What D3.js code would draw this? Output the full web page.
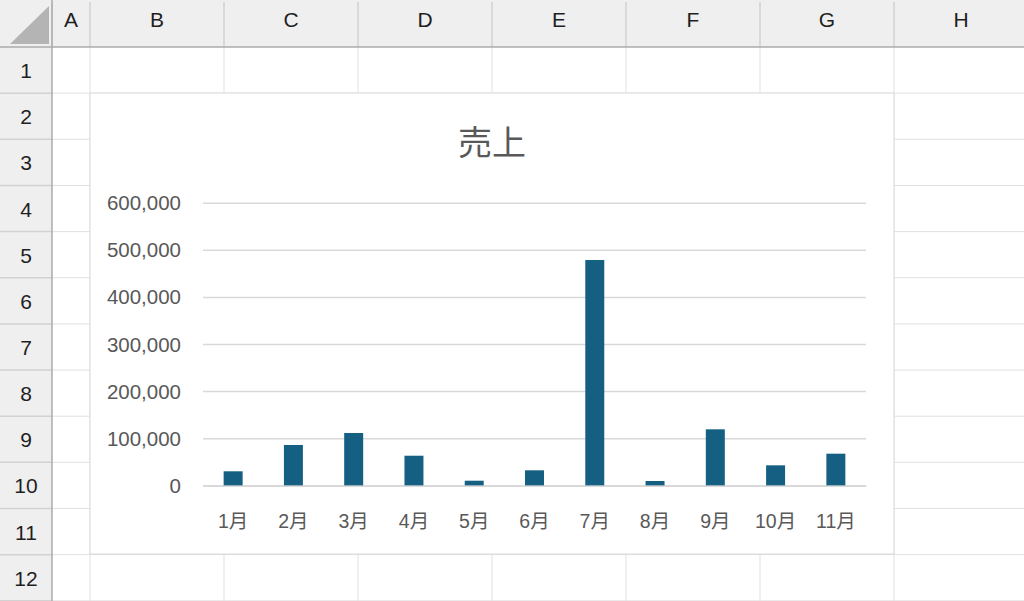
<!DOCTYPE html>
<html>
<head>
<meta charset="utf-8">
<script src="https://cdn.jsdelivr.net/npm/d3@7"></script>
<style>
  html, body { margin: 0; padding: 0; background: #fff; }
  svg { display: block; }
</style>
</head>
<body>
<svg width="1024" height="601"></svg>
<script>
// data
const title = '売上';
const months = ['1月', '2月', '3月', '4月', '5月', '6月', '7月', '8月', '9月', '10月', '11月'];
const sales = [30600, 86500, 112000, 63700, 10600, 32700, 479500, 10000, 119800, 43300, 68000];
const yTicks = [0, 100000, 200000, 300000, 400000, 500000, 600000];
const columnNames = ['A', 'B', 'C', 'D', 'E', 'F', 'G', 'H'];
const rowNames = ['1', '2', '3', '4', '5', '6', '7', '8', '9', '10', '11', '12'];

const svg = d3.select('svg');
const W = 1024, H = 601;

// sheet layout
const headerH = 47, rowHeadW = 52, rowH = 46.15;
const colEdges = [52, 90, 224, 358, 492, 626, 760, 894, 1028];
const fontUI = '"Liberation Sans", "Noto Sans CJK JP", sans-serif';

// sheet cell grid
const sheet = svg.append('g');
sheet.selectAll('line.v')
  .data(colEdges.slice(1))
  .enter().append('line')
  .attr('x1', d => d).attr('x2', d => d)
  .attr('y1', headerH).attr('y2', H)
  .attr('stroke', '#e1e1e1').attr('stroke-width', 1);
sheet.selectAll('line.h')
  .data(rowNames)
  .enter().append('line')
  .attr('x1', rowHeadW).attr('x2', W)
  .attr('y1', (d, i) => headerH + (i + 1) * rowH)
  .attr('y2', (d, i) => headerH + (i + 1) * rowH)
  .attr('stroke', '#e1e1e1').attr('stroke-width', 1);

// column header
const colHead = svg.append('g');
colHead.append('rect').attr('x', 0).attr('y', 0).attr('width', W).attr('height', headerH).attr('fill', '#efefef');
colHead.append('path')
  .attr('d', 'M10,44 L49,44 L49,6 Z')
  .attr('fill', '#b4b4b4');
colHead.selectAll('line.sep')
  .data(colEdges.slice(0, -1))
  .enter().append('line')
  .attr('x1', d => d).attr('x2', d => d)
  .attr('y1', 2).attr('y2', headerH)
  .attr('stroke', '#d2d2d2').attr('stroke-width', 1.5);
colHead.selectAll('text')
  .data(columnNames)
  .enter().append('text')
  .attr('x', (d, i) => (colEdges[i] + Math.min(colEdges[i + 1], 1028)) / 2)
  .attr('y', 27)
  .attr('text-anchor', 'middle')
  .attr('font-family', fontUI)
  .attr('font-size', 21)
  .attr('fill', '#1f1f1f')
  .text(d => d);

// row header
const rowHead = svg.append('g');
rowHead.append('rect').attr('x', 0).attr('y', headerH).attr('width', rowHeadW).attr('height', H - headerH).attr('fill', '#efefef');
rowHead.selectAll('line')
  .data(rowNames)
  .enter().append('line')
  .attr('x1', 0).attr('x2', rowHeadW)
  .attr('y1', (d, i) => headerH + (i + 1) * rowH)
  .attr('y2', (d, i) => headerH + (i + 1) * rowH)
  .attr('stroke', '#d2d2d2').attr('stroke-width', 1.5);
rowHead.selectAll('text')
  .data(rowNames)
  .enter().append('text')
  .attr('x', 26)
  .attr('y', (d, i) => headerH + i * rowH + rowH / 2 + 8)
  .attr('text-anchor', 'middle')
  .attr('font-family', fontUI)
  .attr('font-size', 21)
  .attr('fill', '#1f1f1f')
  .text(d => d);
svg.append('line').attr('x1', 0).attr('x2', W).attr('y1', headerH).attr('y2', headerH)
  .attr('stroke', '#ababab').attr('stroke-width', 1.5);
svg.append('line').attr('x1', rowHeadW).attr('x2', rowHeadW).attr('y1', 0).attr('y2', H)
  .attr('stroke', '#ababab').attr('stroke-width', 1.5);

// chart box
const box = { x: 90, y: 93, w: 804, h: 461 };
svg.append('rect')
  .attr('x', box.x).attr('y', box.y).attr('width', box.w).attr('height', box.h)
  .attr('fill', '#fff').attr('stroke', '#d9d9d9').attr('stroke-width', 1);

// chart title
svg.append('text')
  .attr('x', 492).attr('y', 155)
  .attr('text-anchor', 'middle')
  .attr('font-family', '"Noto Sans CJK JP", sans-serif')
  .attr('font-size', 34)
  .attr('fill', '#595959')
  .text(title);

// scales
const x = d3.scaleBand().domain(months).range([203, 866]).paddingInner(0.685).paddingOuter(0.3425);
const y = d3.scaleLinear().domain([0, 600000]).range([485.7, 203.3]);

// gridlines
svg.append('g')
  .selectAll('line')
  .data(yTicks)
  .enter().append('line')
  .attr('x1', 203).attr('x2', 866)
  .attr('y1', d => y(d)).attr('y2', d => y(d))
  .attr('stroke', '#d9d9d9').attr('stroke-width', 1.5);

// y axis labels
const yAxis = svg.append('g')
  .attr('transform', 'translate(181,0)')
  .call(d3.axisLeft(y).tickValues(yTicks).tickSize(0).tickPadding(0).tickFormat(d3.format(',')));
yAxis.select('.domain').remove();
yAxis.selectAll('text')
  .attr('font-family', fontUI)
  .attr('font-size', 20.5)
  .attr('fill', '#595959');

// bars
svg.append('g')
  .selectAll('rect')
  .data(months)
  .enter().append('rect')
  .attr('x', d => x(d))
  .attr('y', (d, i) => y(sales[i]))
  .attr('width', x.bandwidth())
  .attr('height', (d, i) => y(0) - y(sales[i]))
  .attr('fill', '#156082');

// x axis
const xAxis = svg.append('g')
  .attr('transform', 'translate(0,' + y(0) + ')')
  .call(d3.axisBottom(x).tickSize(0).tickPadding(28));
xAxis.select('.domain').attr('stroke', '#d9d9d9').attr('stroke-width', 1.5);
xAxis.selectAll('text')
  .attr('font-family', fontUI)
  .attr('font-size', 19.5)
  .attr('fill', '#595959');
</script>
</body>
</html>
